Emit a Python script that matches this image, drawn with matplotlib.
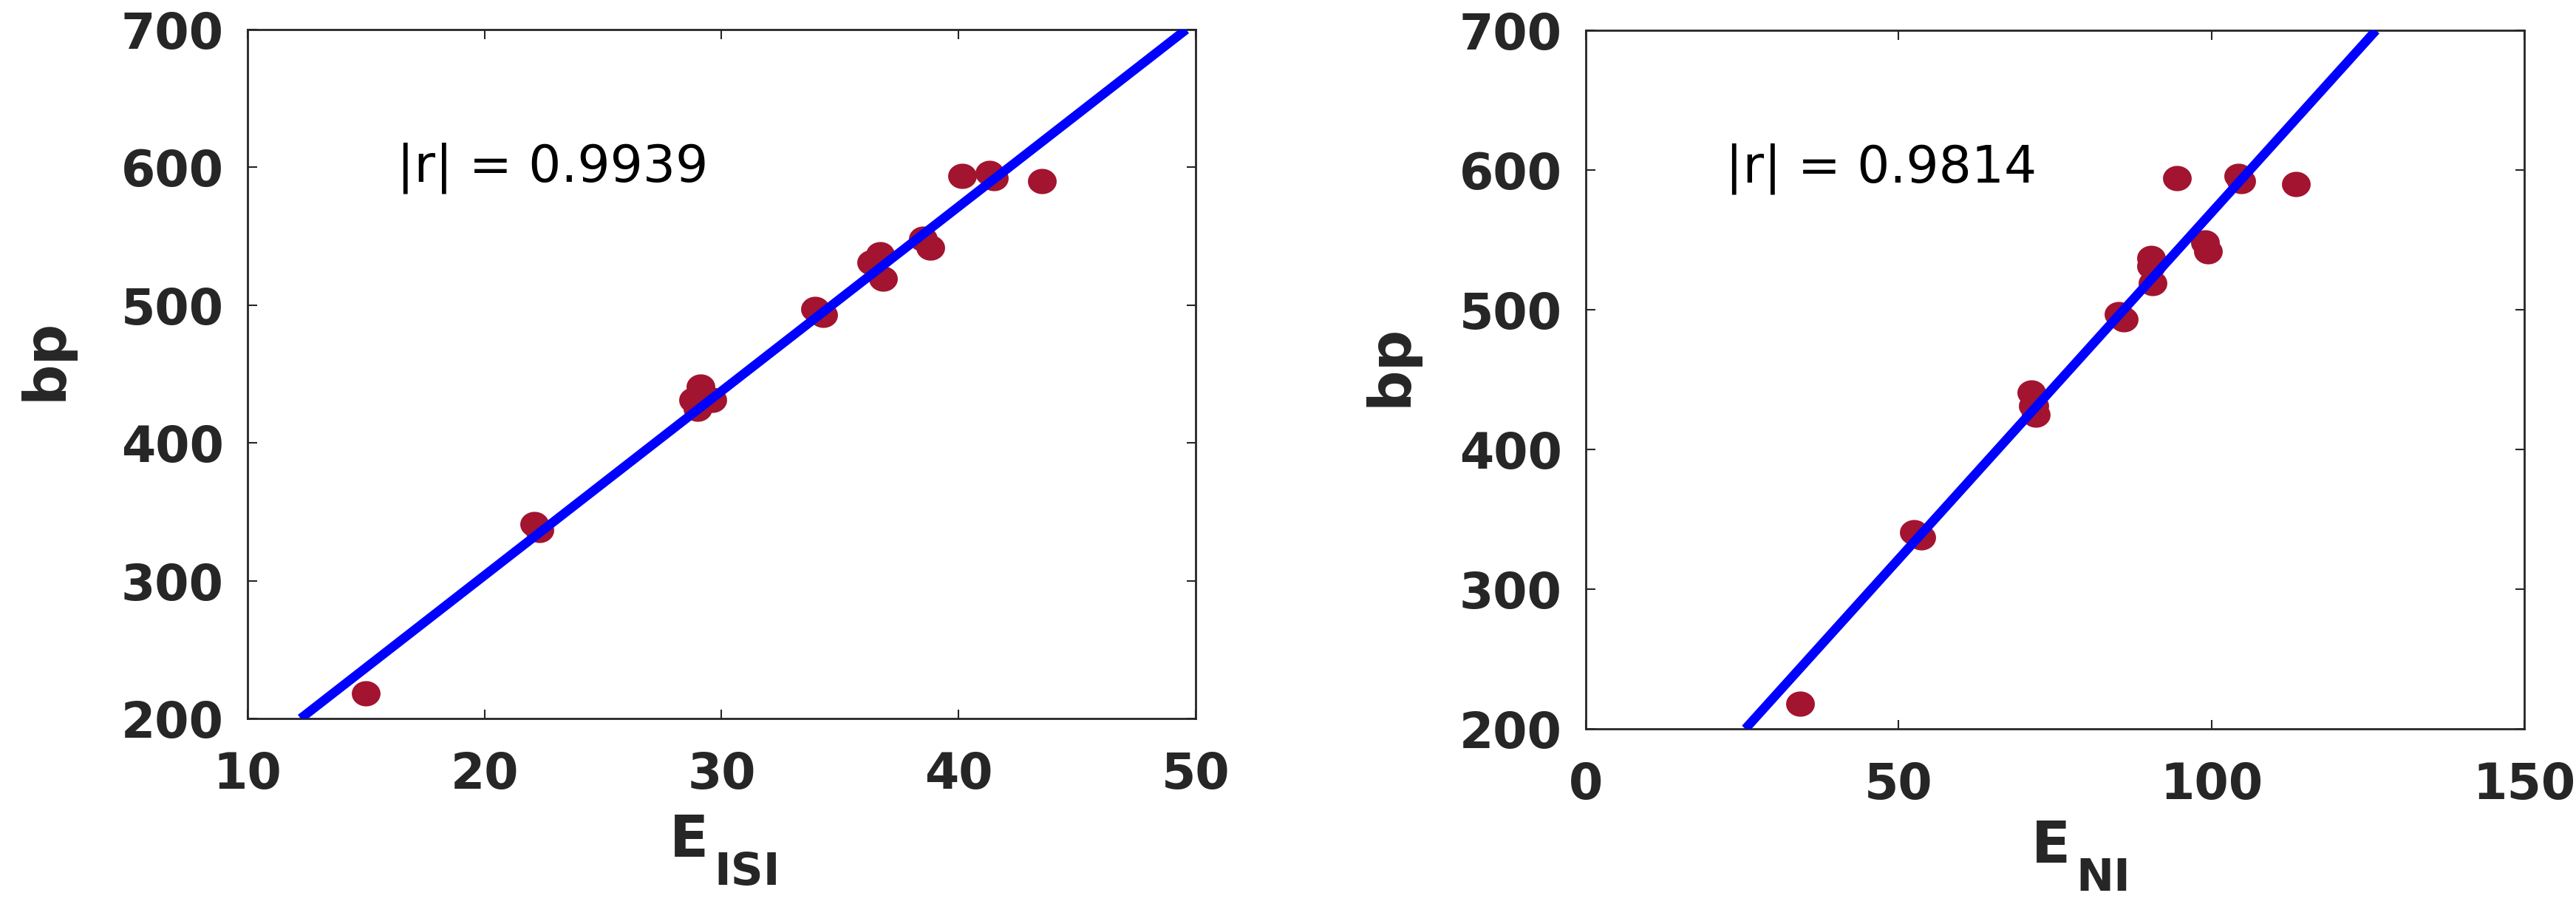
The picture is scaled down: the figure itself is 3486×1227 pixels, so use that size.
import matplotlib
matplotlib.use("Agg")
import matplotlib.pyplot as plt
import numpy as np
from matplotlib.path import Path

# boiling point vs the two indices
bp = [218, 341, 337, 441, 431, 431, 425, 497, 493, 537, 531, 519, 548, 542, 594, 596, 592, 590]
e_isi = [15.0, 22.1, 22.3, 29.1, 28.8, 29.6, 29.0, 33.95, 34.3, 36.7, 36.3, 36.8, 38.5, 38.8, 40.15, 41.3, 41.5, 43.5]
e_ni = [34.3, 52.4, 53.6, 71.2, 71.5, 71.7, 71.9, 85.1, 86.0, 90.4, 90.4, 90.6, 99.0, 99.5, 94.5, 104.3, 104.8, 113.5]

# fitted lines (ends as drawn in the figure)
fit_isi_x = [12.24, 49.6]
fit_ni_x = [25.5, 126.3]
fit_bp = [200, 700]

r_isi = "|r| = 0.9939"
r_ni = "|r| = 0.9814"

isi_ticks = [10, 20, 30, 40, 50]
ni_ticks = [0, 50, 100, 150]
bp_ticks = [200, 300, 400, 500, 600, 700]

DOT = "#A2142F"
INK = "#262626"

# slightly flattened dot, the original figure was stretched sideways
t = np.linspace(0, 2 * np.pi, 60)
ell = Path(np.column_stack([np.cos(t), 0.88 * np.sin(t)]), closed=True)

fig = plt.figure(figsize=(34.87, 12.27), dpi=100)
ax1 = fig.add_axes([0.09607, 0.20782, 0.36794, 0.75957])
ax2 = fig.add_axes([0.61543, 0.19642, 0.36421, 0.77017])


def panel(ax, x, fx, xt, lab, sub, rtxt, rpos, subpos):
    ax.plot(x, bp, linestyle="none", marker=ell, markersize=28,
            color=DOT, markeredgewidth=0, zorder=2)
    ax.plot(fx, fit_bp, color="#0000FF", lw=9, solid_capstyle="butt", zorder=3)
    ax.set_xlim(xt[0], xt[-1])
    ax.set_ylim(200, 700)
    ax.set_xticks(xt)
    ax.set_yticks(bp_ticks)
    ax.tick_params(direction="in", length=9, width=1.5, color=INK,
                   top=True, right=True, labelsize=48, labelcolor=INK)
    ax.tick_params(axis="x", pad=31)
    ax.tick_params(axis="y", pad=23)
    for lbl in ax.get_xticklabels() + ax.get_yticklabels():
        lbl.set_fontweight("bold")
    for s in ax.spines.values():
        s.set_color(INK)
        s.set_linewidth(2.0)
    ax.set_ylabel("bp", fontsize=56, fontweight="bold", color=INK)
    ax.yaxis.label.set_va("center")
    ax.text(rpos[0], rpos[1], rtxt, fontsize=50, color="black", va="baseline")
    ax.text(subpos[0], subpos[1], "E", transform=ax.transAxes, fontsize=56,
            fontweight="bold", color=INK, va="baseline")
    ax.text(subpos[2], subpos[3], sub, transform=ax.transAxes, fontsize=44,
            fontweight="bold", color=INK, va="baseline")


panel(ax1, e_isi, fit_isi_x, isi_ticks, "E", "ISI", r_isi, (16.3, 589.5),
      (0.445, -0.2006, 0.492, -0.2414))
panel(ax2, e_ni, fit_ni_x, ni_ticks, "E", "NI", r_ni, (22.35, 591.5),
      (0.475, -0.1915, 0.522, -0.2317))

ax1.yaxis.set_label_coords(-0.2128, 0.5215)
ax2.yaxis.set_label_coords(-0.2079, 0.5206)

fig.savefig("out.png", dpi=100, facecolor="white")
